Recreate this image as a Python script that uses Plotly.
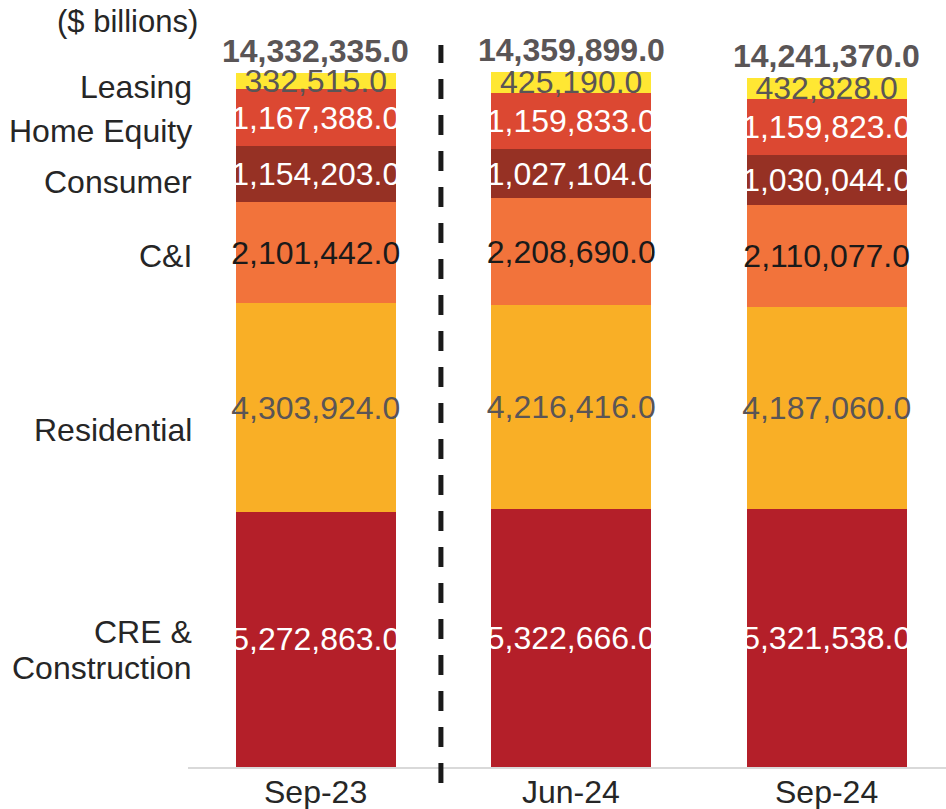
import plotly.graph_objects as go

periods = ["Sep-23", "Jun-24", "Sep-24"]
series_names = ["CRE &<br>Construction", "Residential", "C&I", "Consumer", "Home Equity", "Leasing"]
cre = [5272863.0, 5322666.0, 5321538.0]
residential = [4303924.0, 4216416.0, 4187060.0]
cni = [2101442.0, 2208690.0, 2110077.0]
consumer = [1154203.0, 1027104.0, 1030044.0]
home_equity = [1167388.0, 1159833.0, 1159823.0]
leasing = [332515.0, 425190.0, 432828.0]
totals = [14332335.0, 14359899.0, 14241370.0]

series_values = [cre, residential, cni, consumer, home_equity, leasing]
colors = ["#B41F29", "#F9AF26", "#F2733B", "#963124", "#DC4832", "#FFE733"]
text_colors = ["#FFFFFF", "#5A5556", "#1A1A1A", "#FFFFFF", "#FFFFFF", "#5A5556"]
label_y_px = [650, 430, 256, 182, 131, 87]

FONT = "Liberation Sans, Arial, sans-serif"
FS = 32

fig = go.Figure()
for name, vals, col, tcol in zip(series_names, series_values, colors, text_colors):
    fig.add_trace(go.Bar(
        x=periods, y=vals, name=name, marker=dict(color=col, line=dict(width=0)),
        texttemplate="%{y:,.1f}", textposition="inside", insidetextanchor="middle",
        textangle=0, textfont=dict(family=FONT, size=FS, color=tcol),
        hoverinfo="skip",
    ))

W, H = 946, 809
ml, mr, mt, mb = 188, 0, 41, 42
plot_h = H - mt - mb
plot_w = W - ml - mr

def py(p):
    return (H - mb - p) / plot_h

annotations = []
for per, tot in zip(periods, totals):
    annotations.append(dict(
        x=per, xref="x", y=tot, yref="y", yanchor="bottom", xanchor="center",
        text=f"<b>{tot:,.1f}</b>", showarrow=False, yshift=2,
        font=dict(family=FONT, size=FS, color="#5A5556"),
    ))
for per in periods:
    annotations.append(dict(
        x=per, xref="x", y=py(792), yref="paper", yanchor="middle", xanchor="center",
        text=per, showarrow=False,
        font=dict(family=FONT, size=FS, color="#262626"),
    ))
for name, ypx in zip(series_names, label_y_px):
    lines = name.split("<br>")
    n = len(lines)
    for i, line in enumerate(lines):
        annotations.append(dict(
            x=(194 - ml) / plot_w, xref="paper", xanchor="right",
            y=py(ypx + (i - (n - 1) / 2) * 36), yref="paper", yanchor="middle",
            text=line, showarrow=False, align="right",
            font=dict(family=FONT, size=FS, color="#262626"),
        ))
annotations.append(dict(
    x=(200 - ml) / plot_w, xref="paper", xanchor="right",
    y=py(22), yref="paper", yanchor="middle",
    text="($ billions)", showarrow=False,
    font=dict(family=FONT, size=FS - 1, color="#262626"),
))

fig.update_layout(
    width=W, height=H,
    margin=dict(l=ml, r=mr, t=mt, b=mb, pad=0, autoexpand=False),
    barmode="stack", bargap=0.374,
    paper_bgcolor="white", plot_bgcolor="white",
    showlegend=False,
    uniformtext=dict(minsize=FS, mode="show"),
    xaxis=dict(range=[-0.5, 2.467], showline=True, linecolor="#D9D9D9", linewidth=2,
               ticks="", showticklabels=False, automargin=False, showgrid=False,
               fixedrange=True),
    yaxis=dict(range=[0, 15.0e6], visible=False, showgrid=False, zeroline=False,
               automargin=False),
    annotations=annotations,
    shapes=[dict(type="line", xref="x", yref="paper", x0=0.49, x1=0.49,
                 y0=py(783), y1=py(45),
                 line=dict(color="#1A1A1A", width=5, dash="20px,16px"))],
)

fig.write_html(
    "out.html",
    config={"displayModeBar": False},
    post_script="document.body.style.margin='0';document.body.style.padding='0';document.body.style.overflow='hidden';",
)
